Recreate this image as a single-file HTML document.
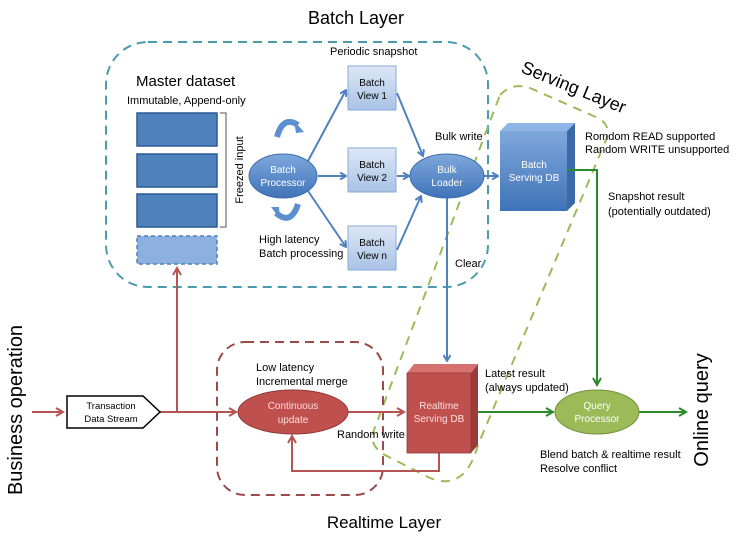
<!DOCTYPE html>
<html><head><meta charset="utf-8"><style>
html,body{margin:0;padding:0;background:#fff;}
svg{display:block;font-family:"Liberation Sans",sans-serif;}
</style></head><body>
<svg width="736" height="536" viewBox="0 0 736 536" xmlns="http://www.w3.org/2000/svg">
<defs>
<marker id="ab" markerWidth="8" markerHeight="8" refX="7" refY="4" orient="auto" markerUnits="userSpaceOnUse"><path d="M1,0.5 L7,4 L1,7.5" fill="none" stroke="#4f81bd" stroke-width="2"/></marker>
<marker id="ar" markerWidth="10" markerHeight="10" refX="8" refY="5" orient="auto" markerUnits="userSpaceOnUse"><path d="M1,1 L8,5 L1,9" fill="none" stroke="#b55452" stroke-width="2"/></marker>
<marker id="ag" markerWidth="10" markerHeight="10" refX="8" refY="5" orient="auto" markerUnits="userSpaceOnUse"><path d="M1,1 L8,5 L1,9" fill="none" stroke="#2a8a2a" stroke-width="2"/></marker>
<linearGradient id="gb" x1="0" y1="0" x2="0" y2="1"><stop offset="0" stop-color="#7fa8dc"/><stop offset="1" stop-color="#3f73b8"/></linearGradient>
<linearGradient id="gv" x1="0" y1="0" x2="0" y2="1"><stop offset="0" stop-color="#dde8f7"/><stop offset="1" stop-color="#a9c2e6"/></linearGradient>
</defs>

<text x="356" y="24" font-size="18" text-anchor="middle">Batch Layer</text>
<rect x="106" y="42" width="382" height="245" rx="42" fill="none" stroke="#4a9bb0" stroke-width="2" stroke-dasharray="9,6"/>

<!-- serving green shape -->
<path d="M500,95 Q512,82 530,88 L598,118 Q612,126 606,140 L478,445 Q465,492 430,478 L385,455 Q368,445 374,430 L495,108 Z" fill="none" stroke="#9bbb59" stroke-width="2" stroke-dasharray="9,7"/>
<text x="0" y="0" font-size="18" transform="translate(520,72) rotate(22)">Serving Layer</text>

<text x="136" y="86" font-size="15">Master dataset</text>
<text x="127" y="104" font-size="11">Immutable, Append-only</text>
<rect x="137" y="113" width="80" height="33" fill="#4f81bd" stroke="#2c5a94" stroke-width="1.5"/>
<rect x="137" y="154" width="80" height="33" fill="#4f81bd" stroke="#2c5a94" stroke-width="1.5"/>
<rect x="137" y="194" width="80" height="33" fill="#4f81bd" stroke="#2c5a94" stroke-width="1.5"/>
<rect x="137" y="236" width="80" height="28" fill="#8db0e0" stroke="#4f81bd" stroke-width="1.5" stroke-dasharray="4,3"/>
<path d="M220,113 L226,113 L226,227 L220,227" fill="none" stroke="#555" stroke-width="1"/>
<text x="0" y="0" font-size="11" text-anchor="middle" transform="translate(243,170) rotate(-90)">Freezed input</text>

<!-- curved arrows -->
<path d="M277,137 Q283,115 298,125" fill="none" stroke="#5b8fd0" stroke-width="6"/>
<path d="M294,121 L304,132 L296,133 Z" fill="#5b8fd0"/>
<path d="M298,204 Q291,226 276,213" fill="none" stroke="#5b8fd0" stroke-width="6"/>
<path d="M280,219 L271,207 L279,207 Z" fill="#5b8fd0"/>

<!-- arrows batch -->
<g stroke="#4f81bd" stroke-width="2" fill="none">
<line x1="308" y1="161" x2="346" y2="90" marker-end="url(#ab)"/>
<line x1="318" y1="176" x2="346" y2="176" marker-end="url(#ab)"/>
<line x1="308" y1="191" x2="346" y2="247" marker-end="url(#ab)"/>
<line x1="397" y1="93" x2="423" y2="156" marker-end="url(#ab)"/>
<line x1="397" y1="176" x2="409" y2="176" marker-end="url(#ab)"/>
<line x1="397" y1="250" x2="421" y2="196" marker-end="url(#ab)"/>
<line x1="484" y1="176" x2="498" y2="176" marker-end="url(#ab)"/>
<line x1="447" y1="198" x2="447" y2="361" marker-end="url(#ab)"/>
</g>

<ellipse cx="283" cy="176" rx="34" ry="22" fill="url(#gb)" stroke="#3f6fae" stroke-width="1"/>
<text x="283" y="173" font-size="10" fill="#fff" text-anchor="middle">Batch</text>
<text x="283" y="186" font-size="10" fill="#fff" text-anchor="middle">Processor</text>

<text x="330" y="55" font-size="11">Periodic snapshot</text>
<g font-size="10" text-anchor="middle">
<rect x="348" y="66" width="48" height="44" fill="url(#gv)" stroke="#8aa9d4"/>
<text x="372" y="86">Batch</text><text x="372" y="99">View 1</text>
<rect x="348" y="148" width="48" height="44" fill="url(#gv)" stroke="#8aa9d4"/>
<text x="372" y="168">Batch</text><text x="372" y="181">View 2</text>
<rect x="348" y="226" width="48" height="44" fill="url(#gv)" stroke="#8aa9d4"/>
<text x="372" y="246">Batch</text><text x="372" y="259">View n</text>
</g>
<text x="259" y="243" font-size="11">High latency</text>
<text x="259" y="257" font-size="11">Batch processing</text>

<ellipse cx="447" cy="176" rx="37" ry="22" fill="url(#gb)" stroke="#3f6fae" stroke-width="1"/>
<text x="447" y="173" font-size="10" fill="#fff" text-anchor="middle">Bulk</text>
<text x="447" y="186" font-size="10" fill="#fff" text-anchor="middle">Loader</text>
<text x="435" y="140" font-size="11">Bulk write</text>
<text x="455" y="267" font-size="11">Clear</text>

<!-- Batch serving DB -->
<polygon points="500,131 508,123 575,123 567,131" fill="#8fb4e6"/>
<polygon points="567,131 575,123 575,203 567,211" fill="#3c6aa8"/>
<rect x="500" y="131" width="67" height="80" fill="url(#gb)"/>
<text x="534" y="168" font-size="10" fill="#fff" text-anchor="middle">Batch</text>
<text x="534" y="181" font-size="10" fill="#fff" text-anchor="middle">Serving DB</text>
<text x="585" y="140" font-size="11">Romdom READ supported</text>
<text x="585" y="153" font-size="11">Random WRITE unsupported</text>
<text x="608" y="200" font-size="11">Snapshot result</text>
<text x="608" y="215" font-size="11">(potentially outdated)</text>

<!-- green connectors -->
<g stroke="#2a8a2a" stroke-width="2" fill="none">
<polyline points="567,170 597,170 597,385" marker-end="url(#ag)"/>
<line x1="477" y1="412" x2="553" y2="412" marker-end="url(#ag)"/>
<line x1="639" y1="412" x2="686" y2="412" marker-end="url(#ag)"/>
</g>

<!-- realtime -->
<rect x="217" y="342" width="166" height="153" rx="28" fill="none" stroke="#9c4a48" stroke-width="2" stroke-dasharray="9,6"/>
<text x="384" y="528" font-size="17" text-anchor="middle">Realtime Layer</text>
<text x="256" y="371" font-size="11">Low latency</text>
<text x="256" y="385" font-size="11">Incremental merge</text>

<g stroke="#b55452" stroke-width="2" fill="none">
<line x1="32" y1="412" x2="63" y2="412" marker-end="url(#ar)"/>
<line x1="160" y1="412" x2="236" y2="412" marker-end="url(#ar)"/>
<line x1="177" y1="412" x2="177" y2="268" marker-end="url(#ar)"/>
<line x1="348" y1="412" x2="404" y2="412" marker-end="url(#ar)"/>
<polyline points="439,453 439,471 292,471 292,436" marker-end="url(#ar)"/>
</g>
<polygon points="67,396 143,396 160,412 143,428 67,428" fill="#fff" stroke="#000" stroke-width="1.5"/>
<text x="111" y="409" font-size="9.5" text-anchor="middle">Transaction</text>
<text x="111" y="422" font-size="9.5" text-anchor="middle">Data Stream</text>

<ellipse cx="293" cy="412" rx="55" ry="22" fill="#c0504d" stroke="#8c3a38" stroke-width="1"/>
<text x="293" y="409" font-size="10" fill="#fbe0df" text-anchor="middle">Continuous</text>
<text x="293" y="423" font-size="10" fill="#fbe0df" text-anchor="middle">update</text>
<text x="337" y="438" font-size="11">Random write</text>

<polygon points="407,373 414,364 478,364 471,373" fill="#d6716e"/>
<polygon points="471,373 478,364 478,445 471,453" fill="#9c3c3a"/>
<rect x="407" y="373" width="64" height="80" fill="#c0504d" stroke="#8c3a38" stroke-width="0.8"/>
<text x="439" y="409" font-size="10" fill="#fbe0df" text-anchor="middle">Realtime</text>
<text x="439" y="422" font-size="10" fill="#fbe0df" text-anchor="middle">Serving DB</text>
<text x="485" y="377" font-size="11">Latest result</text>
<text x="485" y="391" font-size="11">(always updated)</text>

<ellipse cx="597" cy="412" rx="42" ry="22" fill="#9bbb59" stroke="#76923c" stroke-width="1"/>
<text x="597" y="409" font-size="10" fill="#fff" text-anchor="middle">Query</text>
<text x="597" y="422" font-size="10" fill="#fff" text-anchor="middle">Processor</text>
<text x="540" y="458" font-size="11">Blend batch &amp; realtime result</text>
<text x="540" y="472" font-size="11">Resolve conflict</text>

<text x="0" y="0" font-size="20" text-anchor="middle" transform="translate(22,410) rotate(-90)">Business operation</text>
<text x="0" y="0" font-size="20" text-anchor="middle" transform="translate(708,410) rotate(-90)">Online query</text>
</svg>
</body></html>
